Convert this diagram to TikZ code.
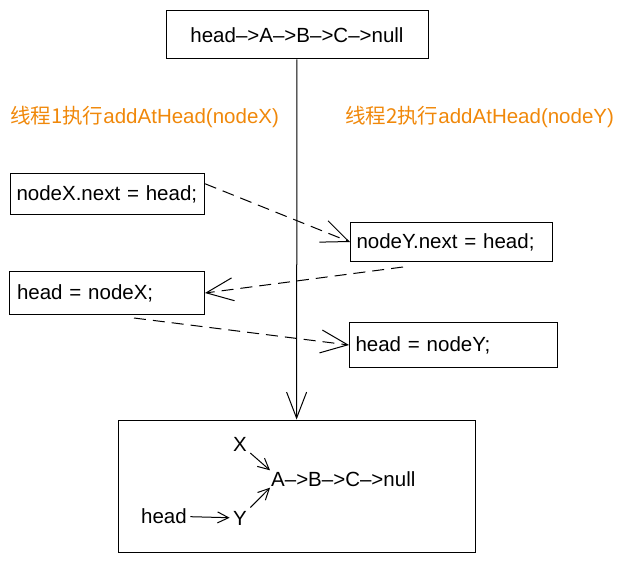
\documentclass[tikz,border=0pt]{standalone}
\usepackage{fontspec}
\setmainfont{Liberation Sans}
\newfontfamily\cjk{Noto Sans CJK SC}
\usetikzlibrary{arrows.meta}
\definecolor{threadorange}{RGB}{240,136,10}
\tikzset{
  listbox/.style={draw, line width=1pt, minimum width=262pt, minimum height=48pt, font=\fontsize{20.5}{24}\selectfont},
  codebox/.style={draw, line width=1pt, anchor=north west, inner xsep=6pt, align=left, font=\fontsize{20.5}{24}\selectfont},
  threadlbl/.style={text=threadorange, font=\fontsize{20.5}{24}\selectfont},
  handoff/.style={dash pattern=on 12pt off 7pt, line width=1pt, -{Straight Barb[length=27pt,width=23pt]}},
  ptr/.style={line width=1pt, -{Straight Barb[length=11pt,width=11pt]}},
}

\begin{document}
\begin{tikzpicture}[x=1pt, y=-1pt]
        \useasboundingbox (0,0) rectangle (623,564);
        % list before
        \node[listbox] (before) at (297,35) {head–>A–>B–>C–>null};
        % thread labels
        \node[threadlbl] (t1) at (144.5,117) {{\cjk 线程1执行}addAtHead(nodeX)};
        \node[threadlbl] (t2) at (479.5,117) {{\cjk 线程2执行}addAtHead(nodeY)};
        % thread 1
        \node[codebox, text width=182pt, minimum height=41pt] (sx1) at (10,173) {nodeX.next = head;};
        \node[codebox, text width=180pt, minimum height=43pt, inner xsep=7.5pt] (sx2) at (9,271) {head = nodeX;};
        % thread 2
        \node[codebox, text width=190pt, minimum height=39pt] (sy1) at (350,222) {nodeY.next = head;};
        \node[codebox, text width=196pt, minimum height=45pt] (sy2) at (349,322) {head = nodeY;};
        % list after
        \node[draw, line width=1pt, minimum width=357pt, minimum height=132pt] (after) at (296.5,486) {};
        \begin{scope}[font=\fontsize{20.5}{24}\selectfont]
        \node[anchor=west, inner sep=1pt] (lst) at (270,479) {A–>B–>C–>null};
        \node (X) at (240,444) {X};
        \node (Y) at (240,518) {Y};
        \node (hd) at (164,516) {head};
        \end{scope}
        % arrows
        \draw[line width=1pt, -{Straight Barb[length=26pt,width=20pt]}] (before) -- (after);
        \draw[handoff] (sx1.6) -- (sy1.west);
        \draw[handoff] ([xshift=53pt,yshift=-5pt]sy1.south west) -- (sx2.east);
        \draw[handoff] ([xshift=27pt,yshift=-3pt]sx2.south) -- (sy2.west);
        \draw[ptr] (X) -- (lst.north west);
        \draw[ptr] (hd) -- (Y);
        \draw[ptr] (Y) -- (lst.south west);
\end{tikzpicture}
\end{document}
